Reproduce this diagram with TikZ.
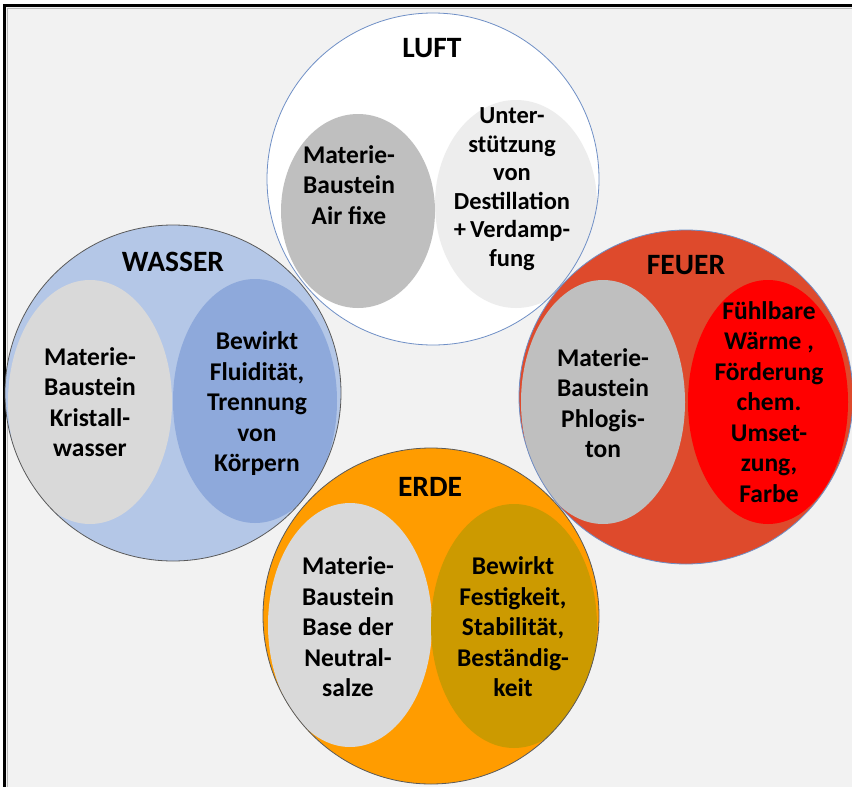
\documentclass[tikz,border=0pt]{standalone}
\usepackage{fontspec}
\setmainfont{Carlito}
\usetikzlibrary{positioning}
\definecolor{pagegray}{HTML}{F2F2F2}
\definecolor{luftrim}{HTML}{6F8FC6}
\definecolor{darkrim}{HTML}{5A5A5A}
\definecolor{luftleft}{HTML}{BFBFBF}
\definecolor{luftright}{HTML}{EDEDED}
\definecolor{wasserfill}{HTML}{B4C7E7}
\definecolor{wasserright}{HTML}{8EA9DB}
\definecolor{lightgray}{HTML}{D9D9D9}
\definecolor{feuerfill}{HTML}{DE4A2C}
\definecolor{feuerright}{HTML}{FF0000}
\definecolor{erdefill}{HTML}{FF9C00}
\definecolor{erderight}{HTML}{CC9A00}
\tikzset{
    element/.style   = {line width=0.8pt},
    part text/.style = {font=\bfseries\fontsize{25.5}{30.5}\selectfont, align=center, text=black},
    small text/.style = {font=\bfseries\fontsize{24.5}{28.5}\selectfont, align=center, text=black},
    title text/.style = {font=\bfseries\fontsize{29.5}{32}\selectfont, text=black}
}

\begin{document}
\begin{tikzpicture}[x=1pt,y=-1pt]
	\useasboundingbox (0,0) rectangle (852,787);
	% page and frame
	\fill[white] (0,0) rectangle (852,787);
	\fill[pagegray] (4,5) rectangle (852,787);
	\draw[gray!55, line width=1pt] (7,787) -- (7,8) -- (852,8);
	\draw[black, line width=3pt] (4,787) -- (4,5) -- (852,5);

	% LUFT
	\fill[white] (433,179) circle [radius=166pt];
	\begin{scope}
		\clip (433,179) circle [radius=166pt];
		\fill[luftleft] (358,211) ellipse [x radius=77pt, y radius=97pt];
		\fill[luftright] (516,204) ellipse [x radius=81pt, y radius=104pt];
	\end{scope}
	\draw[element, luftrim] (433,179) circle [radius=166pt];
	\node[title text] (luft) at (432,48) {LUFT};
	\node[part text] (luft-a) at (349,185) {Materie-\\Baustein\\Air fixe};
	\node[small text] (luft-b) at (512,189) {Unter-\\stützung\\von\\Destillation\\+\,Verdamp-\\fung};

	% WASSER
	\fill[wasserfill] (173,393) circle [radius=168pt];
	\begin{scope}
		\clip (173,393) circle [radius=168pt];
		\fill[lightgray] (90,402) ellipse [x radius=82pt, y radius=122pt];
		\fill[wasserright] (255,401) ellipse [x radius=82pt, y radius=122pt];
	\end{scope}
	\draw[element, darkrim] (173,393) circle [radius=168pt];
	\node[title text] (wasser) at (173,262) {WASSER};
	\node[part text] (wasser-a) at (90,402) {Materie-\\Baustein\\Kristall-\\wasser};
	\node[part text] (wasser-b) at (257,404) {Bewirkt\\Fluidität,\\Trennung\\von\\Körpern};

	% FEUER
	\fill[feuerfill] (686,397) circle [radius=167pt];
	\begin{scope}
		\clip (686,397) circle [radius=167pt];
		\fill[luftleft] (603,402) ellipse [x radius=82pt, y radius=122pt];
		\fill[feuerright] (768,402) ellipse [x radius=80pt, y radius=122pt];
	\end{scope}
	\draw[element, luftrim] (686,397) circle [radius=167pt];
	\node[title text] (feuer) at (686,265) {FEUER};
	\node[part text] (feuer-a) at (603,403) {Materie-\\Baustein\\Phlogis-\\ton};
	\node[part text] (feuer-b) at (769,402) {Fühlbare\\Wärme ,\\Förderung\\chem.\\Umset-\\zung,\\Farbe};

	% ERDE
	\fill[erdefill] (431,616) circle [radius=168pt];
	\begin{scope}
		\clip (431,616) circle [radius=168pt];
		\fill[lightgray] (350,625) ellipse [x radius=82pt, y radius=122pt];
		\fill[erderight] (514,626) ellipse [x radius=83pt, y radius=122pt];
	\end{scope}
	\draw[element, darkrim] (431,616) circle [radius=168pt];
	\node[title text] (erde) at (430,487) {ERDE};
	\node[part text] (erde-a) at (348,627) {Materie-\\Baustein\\Base der\\Neutral-\\salze};
	\node[part text] (erde-b) at (513,627) {Bewirkt\\Festigkeit,\\Stabilität,\\Beständig-\\keit};
\end{tikzpicture}
\end{document}
